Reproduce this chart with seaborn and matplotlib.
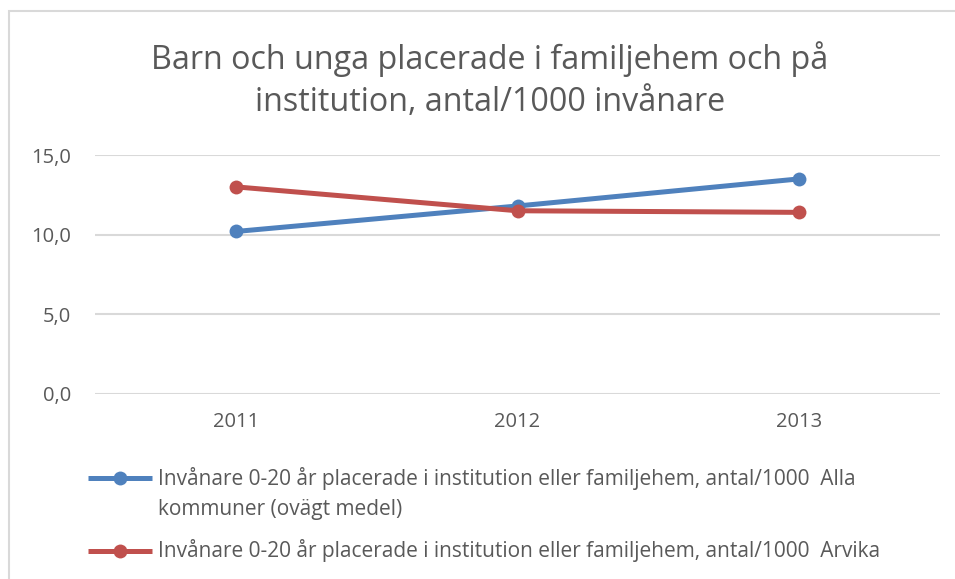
import matplotlib
matplotlib.use("Agg")
import matplotlib.pyplot as plt
import seaborn as sns
import pandas as pd
from matplotlib.patches import Rectangle
from matplotlib.lines import Line2D

years = ["2011", "2012", "2013"]
alla = [10.2, 11.8, 13.5]
arvika = [13.0, 11.5, 11.4]
series_names = [
    "Invånare 0-20 år placerade i institution eller familjehem, antal/1000  Alla kommuner (ovägt medel)",
    "Invånare 0-20 år placerade i institution eller familjehem, antal/1000  Arvika",
]
legend_lines = [
    ["Invånare 0-20 år placerade i institution eller familjehem, antal/1000  Alla",
     "kommuner (ovägt medel)"],
    ["Invånare 0-20 år placerade i institution eller familjehem, antal/1000  Arvika"],
]
title = "Barn och unga placerade i familjehem och på\ninstitution, antal/1000 invånare"
yticks = [0, 5, 10, 15]
ytick_labels = ["0,0", "5,0", "10,0", "15,0"]
colors = ["#4F81BD", "#C0504D"]

df = pd.DataFrame({
    "year": years * 2,
    "value": alla + arvika,
    "series": [series_names[0]] * 3 + [series_names[1]] * 3,
})

sns.set_style("white")
plt.rcParams["font.family"] = ["Open Sans", "DejaVu Sans"]
TXT = "#595959"
GRID = "#D9D9D9"

W, H = 955, 579
fig = plt.figure(figsize=(W / 100, H / 100), dpi=100)
fig.patch.set_facecolor("white")
fig.patches.append(Rectangle((9 / W, -0.1), 1.2, 1 - 11 / H + 0.1, transform=fig.transFigure,
                             fill=False, edgecolor=GRID, linewidth=1.5))

ax = fig.add_axes([95 / W, 1 - 394 / H, (940 - 95) / W, (394 - 155) / H])
sns.lineplot(data=df, x="year", y="value", hue="series", palette=colors, sort=False,
             marker="o", markersize=10, markeredgewidth=0, linewidth=3.6, ax=ax, legend=False)
ax.set_xlim(-0.5, 2.5)
ax.set_ylim(0, 15)
ax.set_yticks(yticks)
ax.set_yticklabels(ytick_labels)
for s in ax.spines.values():
    s.set_visible(False)
for y in yticks:
    ax.axhline(y, color=GRID, linewidth=1.5, zorder=0)
ax.tick_params(axis="both", length=0, labelsize=14.5, labelcolor=TXT)
ax.tick_params(axis="y", pad=17)
ax.tick_params(axis="x", pad=13)
ax.set_xlabel("")
ax.set_ylabel("")

# legend (Excel style: handle aligned with first text line, wrapped text)
entry_y = [478, 551]
for color, lines, ey in zip(colors, legend_lines, entry_y):
    fy = 1 - ey / H
    fig.add_artist(Line2D([88 / W, 152 / W], [fy, fy], transform=fig.transFigure,
                          color=color, linewidth=3.6, solid_capstyle="butt"))
    fig.add_artist(Line2D([120 / W], [fy], transform=fig.transFigure, color=color,
                          marker="o", markersize=10, markeredgewidth=0, linestyle="none"))
    for i, txt in enumerate(lines):
        fig.text(158 / W, 1 - (ey + 32 * i) / H, txt, ha="left", va="center",
                 fontsize=15, color=TXT)

fig.text(490 / W, 1 - 80 / H, title, ha="center", va="center", fontsize=23.2, color=TXT,
         linespacing=1.35)

fig.savefig("out.png", dpi=100)
